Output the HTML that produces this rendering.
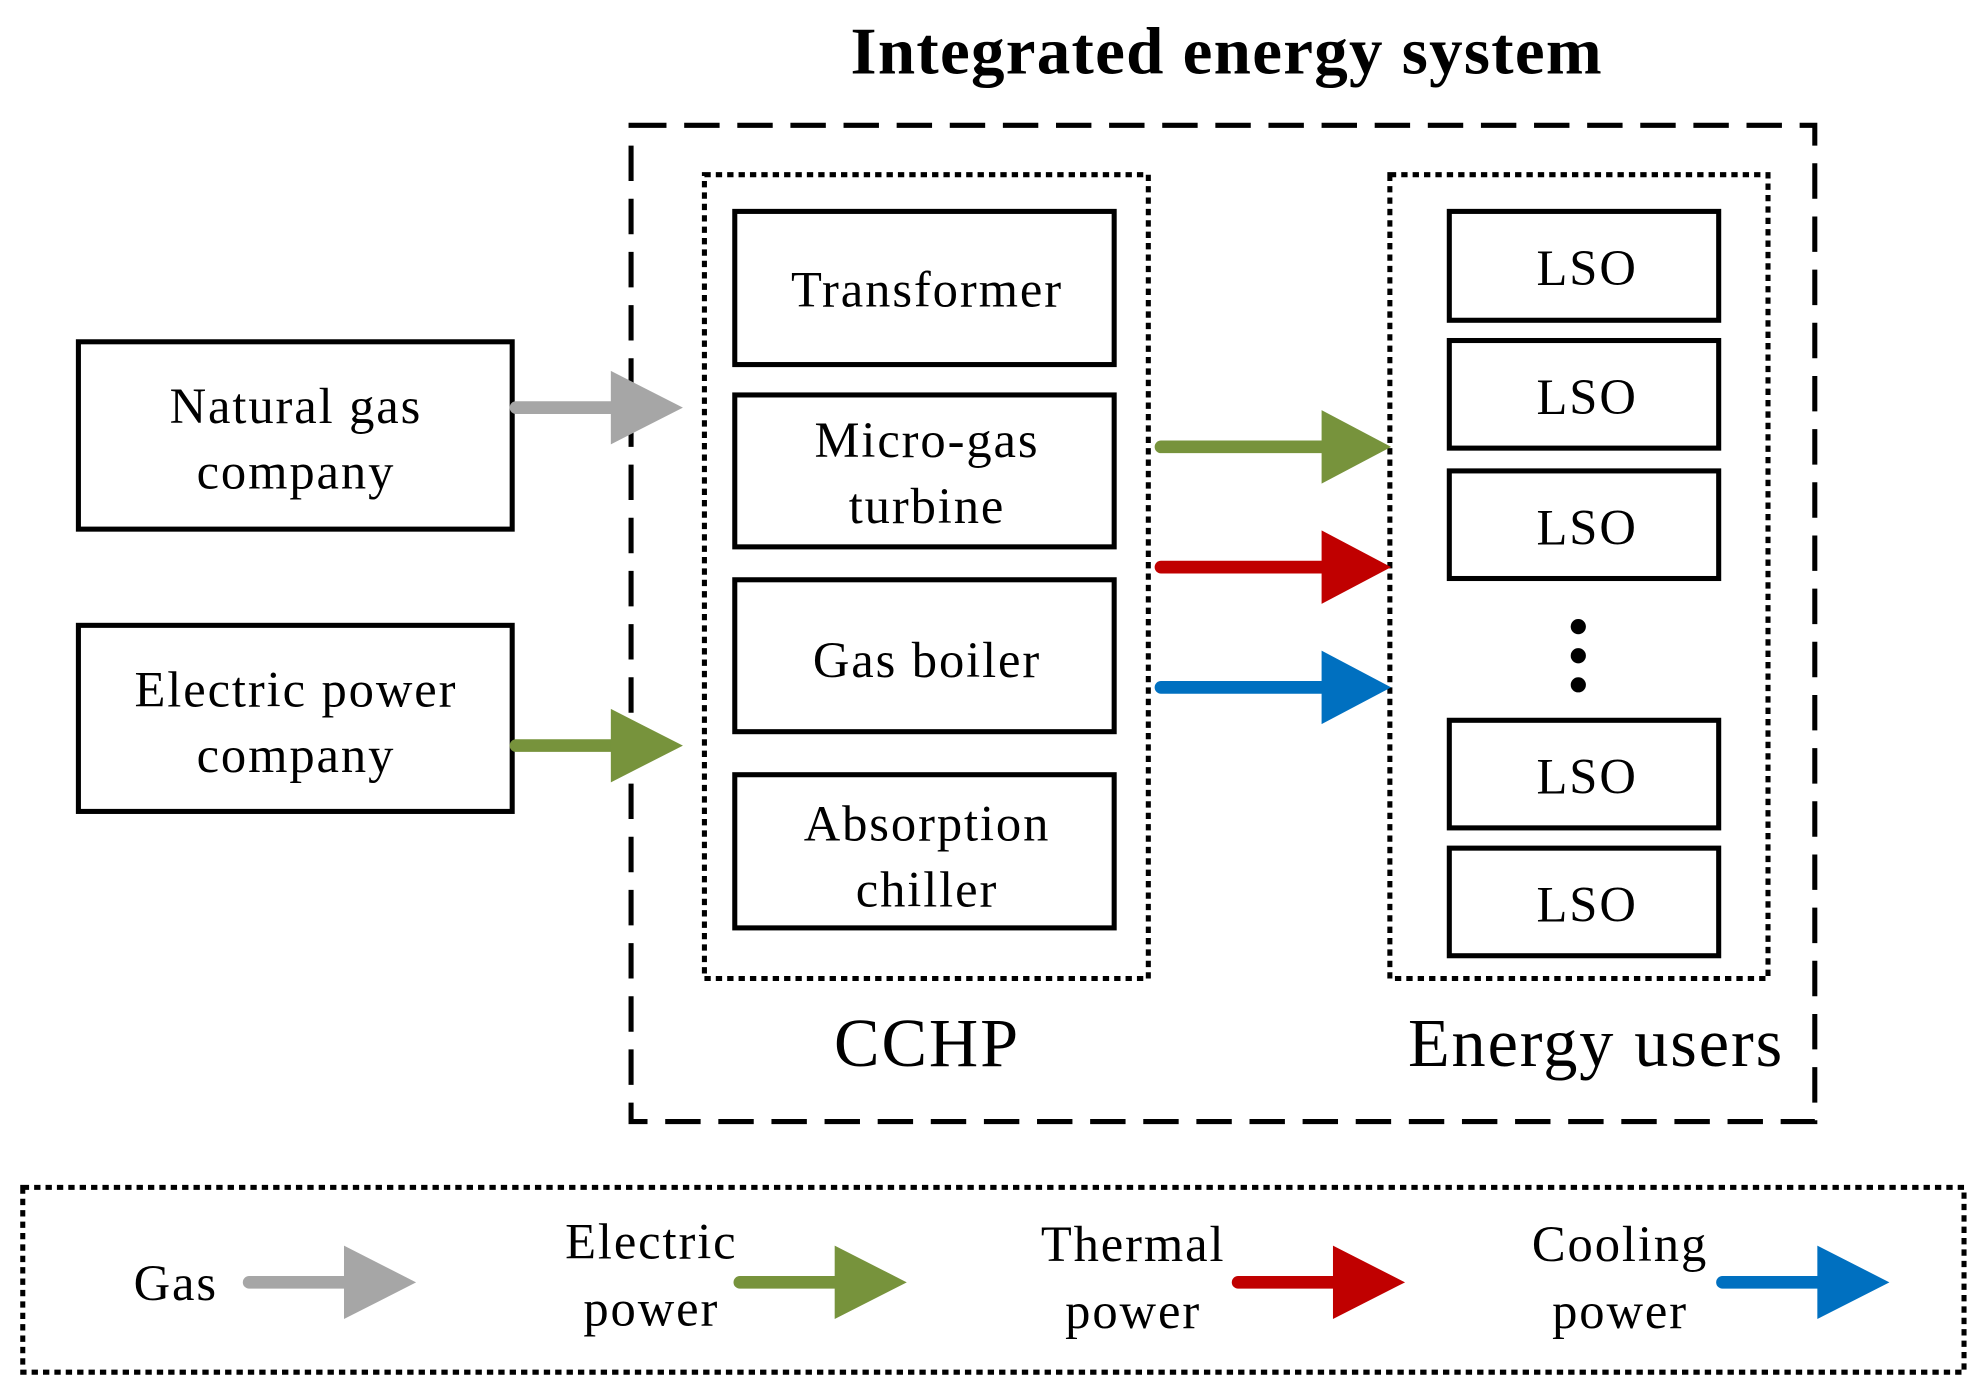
<!DOCTYPE html>
<html><head><meta charset="utf-8"><style>
html,body{margin:0;padding:0;background:#fff;}
svg{display:block;}
text{font-family:"Liberation Serif",serif;fill:#000;}
</style></head><body>
<svg width="1983" height="1395" viewBox="0 0 1568 1102" preserveAspectRatio="none" xmlns="http://www.w3.org/2000/svg">
<defs>
<g id="arr"><rect x="0" y="-5" width="85" height="10" rx="5"/><polygon points="80,-29 137,0 80,29"/></g>
<g id="arr2"><rect x="0" y="-5" width="140" height="10" rx="5"/><polygon points="132,-29 187,0 132,29"/></g>
</defs>
<text x="970" y="58" font-size="53" font-weight="bold" text-anchor="middle" letter-spacing="1">Integrated energy system</text>
<rect x="499" y="99" width="936" height="787" fill="none" stroke="#000" stroke-width="4" stroke-dasharray="28 14"/>
<rect x="557" y="138" width="351" height="635" fill="none" stroke="#000" stroke-width="4" stroke-dasharray="5 4"/>
<rect x="1099" y="138" width="299" height="635" fill="none" stroke="#000" stroke-width="4" stroke-dasharray="5 4"/>
<g fill="none" stroke="#000" stroke-width="4">
<rect x="581" y="167" width="300" height="121"/>
<rect x="581" y="312" width="300" height="120"/>
<rect x="581" y="458" width="300" height="120"/>
<rect x="581" y="612" width="300" height="121"/>
<rect x="1146" y="167" width="213" height="86"/>
<rect x="1146" y="269" width="213" height="85"/>
<rect x="1146" y="372" width="213" height="85"/>
<rect x="1146" y="569" width="213" height="85"/>
<rect x="1146" y="670" width="213" height="85"/>
<rect x="62" y="270" width="343" height="148"/>
<rect x="62" y="494" width="343" height="147"/>
</g>
<rect x="18" y="938" width="1535" height="146" fill="none" stroke="#000" stroke-width="4" stroke-dasharray="5 4"/>
<g font-size="40" text-anchor="middle" letter-spacing="1.5">
<text x="733" y="242">Transformer</text>
<text x="733" y="361">Micro-gas</text>
<text x="733" y="413">turbine</text>
<text x="733" y="535">Gas boiler</text>
<text x="733" y="664">Absorption</text>
<text x="733" y="716">chiller</text>
<text x="1255" y="225">LSO</text>
<text x="1255" y="327">LSO</text>
<text x="1255" y="430">LSO</text>
<text x="1255" y="627">LSO</text>
<text x="1255" y="728">LSO</text>
<text x="234" y="334">Natural gas</text>
<text x="234" y="386">company</text>
<text x="234" y="558">Electric power</text>
<text x="234" y="610">company</text>
<text x="139" y="1027">Gas</text>
<text x="515" y="994">Electric</text>
<text x="515" y="1047">power</text>
<text x="896" y="996">Thermal</text>
<text x="896" y="1049">power</text>
<text x="1281" y="996">Cooling</text>
<text x="1281" y="1049">power</text>
</g>
<g font-size="54" text-anchor="middle" letter-spacing="1.5">
<text x="733" y="842">CCHP</text>
<text x="1262" y="842">Energy users</text>
</g>
<circle cx="1248" cy="495" r="6"/><circle cx="1248" cy="518" r="6"/><circle cx="1248" cy="541" r="6"/>
<use href="#arr" transform="translate(403,322)" fill="#a6a6a6"/>
<use href="#arr" transform="translate(403,589)" fill="#77933c"/>
<use href="#arr2" transform="translate(913,353)" fill="#77933c"/>
<use href="#arr2" transform="translate(913,448)" fill="#c00000"/>
<use href="#arr2" transform="translate(913,543)" fill="#0070c0"/>
<use href="#arr" transform="translate(192,1013)" fill="#a6a6a6"/>
<use href="#arr" transform="translate(580,1013)" fill="#77933c"/>
<use href="#arr" transform="translate(974,1013)" fill="#c00000"/>
<use href="#arr" transform="translate(1357,1013)" fill="#0070c0"/>
</svg>
</body></html>
